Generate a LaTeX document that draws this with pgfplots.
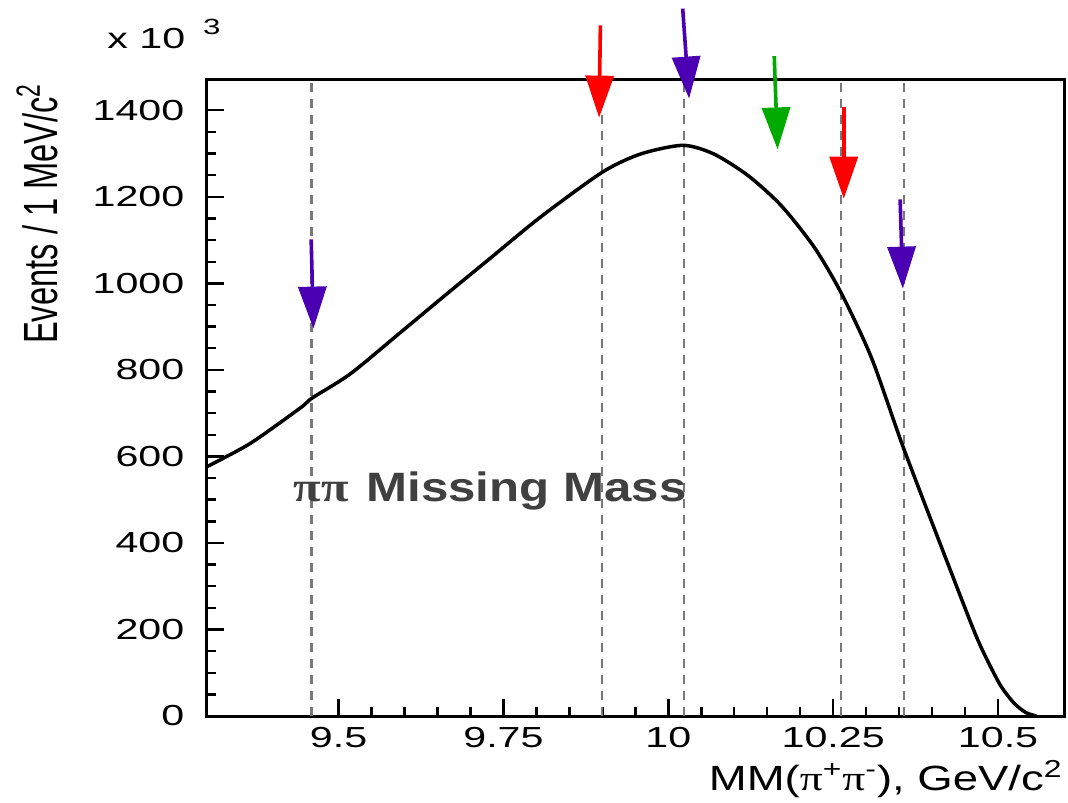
\documentclass[border=0pt]{standalone}
\usepackage{pgfplots}
\pgfplotsset{compat=1.18}
\usetikzlibrary{arrows.meta}
\usepackage{fontspec}
\setmainfont{Liberation Sans}
\newfontfamily\tickfont[FakeStretch=1.42]{Liberation Sans}
\newfontfamily\xlabfont[FakeStretch=1.3]{Liberation Sans}
\newfontfamily\ylabfont[FakeStretch=0.68]{Liberation Sans}
\newfontfamily\titfont[FakeStretch=1.2]{Liberation Sans}
\newfontfamily\grfont[FakeStretch=1.3]{Liberation Serif}
\newfontfamily\grtfont[FakeStretch=1.2]{Liberation Serif}
\newcommand\tickf{\tickfont\fontsize{14.5pt}{17pt}\selectfont}
\definecolor{arrblue}{RGB}{75,0,180}
\definecolor{arrgreen}{RGB}{0,170,0}
\definecolor{dashgray}{RGB}{120,120,120}
\definecolor{txtgray}{RGB}{64,64,64}

\pgfplotstableread{
x y
9.300 576
9.366 630
9.442 712
9.460 735
9.518 791
9.595 888
9.670 983
9.730 1058
9.806 1153
9.900 1257
9.958 1299
10.022 1319
10.069 1299
10.121 1249
10.171 1180
10.221 1084
10.262 978
10.308 828
10.356 622
10.414 391
10.464 195
10.484 128
10.504 70
10.524 30
10.542 8
10.558 0
}\mmdata

\begin{document}
\begin{tikzpicture}
\begin{axis}[
    scale only axis,
    width=428.65pt, height=318pt,
    xmin=9.3, xmax=10.6, ymin=0, ymax=1470,
    clip=false,
    axis line style={line width=1.5pt},
    tick align=inside,
    xtick pos=left, ytick pos=left,
    xtick={9.5,9.75,10,10.25,10.5},
    xticklabels={9.5,9.75,10,10.25,10.5},
    minor x tick num=4,
    ytick={0,200,400,600,800,1000,1200,1400},
    yticklabels={0,200,400,600,800,1000,1200,1400},
    minor y tick num=3,
    major tick length=8.5pt, minor tick length=4.5pt,
    tick style={black, line width=1.2pt},
    tick label style={font=\tickf, inner sep=0pt},
    xticklabel style={yshift=-5.5pt},
    yticklabel style={xshift=-11pt},
    scaled ticks=false,
]
% resonance positions
\addplot[dashgray, line width=1.1pt, dash pattern=on 4.5pt off 3.5pt] coordinates {(9.459,0) (9.459,1470)};
\addplot[dashgray, line width=1.1pt, dash pattern=on 4.5pt off 3.5pt] coordinates {(9.899,0) (9.899,1470)};
\addplot[dashgray, line width=1.1pt, dash pattern=on 4.5pt off 3.5pt] coordinates {(10.024,0) (10.024,1470)};
\addplot[dashgray, line width=1.1pt, dash pattern=on 4.5pt off 3.5pt] coordinates {(10.262,0) (10.262,1470)};
\addplot[dashgray, line width=1.1pt, dash pattern=on 4.5pt off 3.5pt] coordinates {(10.357,0) (10.357,1470)};

\addplot[black, line width=1.75pt, smooth, tension=0.45] table[x=x, y=y] {\mmdata};

% arrows
\addplot[arrblue, line width=1.8pt, -{Triangle[width=14pt, length=21pt]}] coordinates {(9.4584,1101.6) (9.4619,895.4)};
\addplot[red, line width=1.8pt, -{Triangle[width=14pt, length=21pt]}] coordinates {(9.897,1596) (9.895,1383)};
\addplot[arrblue, line width=1.8pt, -{Triangle[width=14pt, length=21pt]}] coordinates {(10.0218,1635) (10.0315,1427)};
\addplot[arrgreen, line width=1.8pt, -{Triangle[width=14pt, length=21pt]}] coordinates {(10.1606,1525) (10.1657,1309.5)};
\addplot[red, line width=1.8pt, -{Triangle[width=14pt, length=21pt]}] coordinates {(10.266,1407) (10.266,1195.6)};
\addplot[arrblue, line width=1.8pt, -{Triangle[width=14pt, length=21pt]}] coordinates {(10.3515,1194) (10.3556,987.8)};

% labels
\node[rotate=90, anchor=base east, inner sep=0pt, font=\ylabfont\fontsize{24pt}{28pt}\selectfont]
  at (rel axis cs:-0.17345,0.99528) {Events / 1 MeV/c\textsuperscript{2}};
\node[anchor=base west, inner sep=0pt] at (rel axis cs:-0.1163,1.04874)
  {\tickf x 10\hspace{9pt}\raisebox{7pt}{\tickfont\fontsize{11pt}{13pt}\selectfont 3}};
\node[anchor=base west, inner sep=0pt, text=txtgray] at (rel axis cs:0.10066,0.33648)
  {{\grtfont\bfseries\fontsize{21pt}{24pt}\selectfont ππ}\hspace{9pt}{\titfont\bfseries\fontsize{20.5pt}{24pt}\selectfont Missing Mass}};
\node[anchor=base east, inner sep=0pt, font=\xlabfont\fontsize{17.5pt}{20pt}\selectfont]
  at (rel axis cs:0.99884,-0.11635)
  {MM({\grfont π}\textsuperscript{+}{\grfont π}\textsuperscript{-}), GeV/c\textsuperscript{2}};

\coordinate (bbl) at (rel axis cs:-0.24111,-0.13522);
\coordinate (btr) at (rel axis cs:1.00467,1.12579);
\end{axis}
\pgfresetboundingbox
\path[use as bounding box] (bbl) rectangle (btr);
\end{tikzpicture}
\end{document}
